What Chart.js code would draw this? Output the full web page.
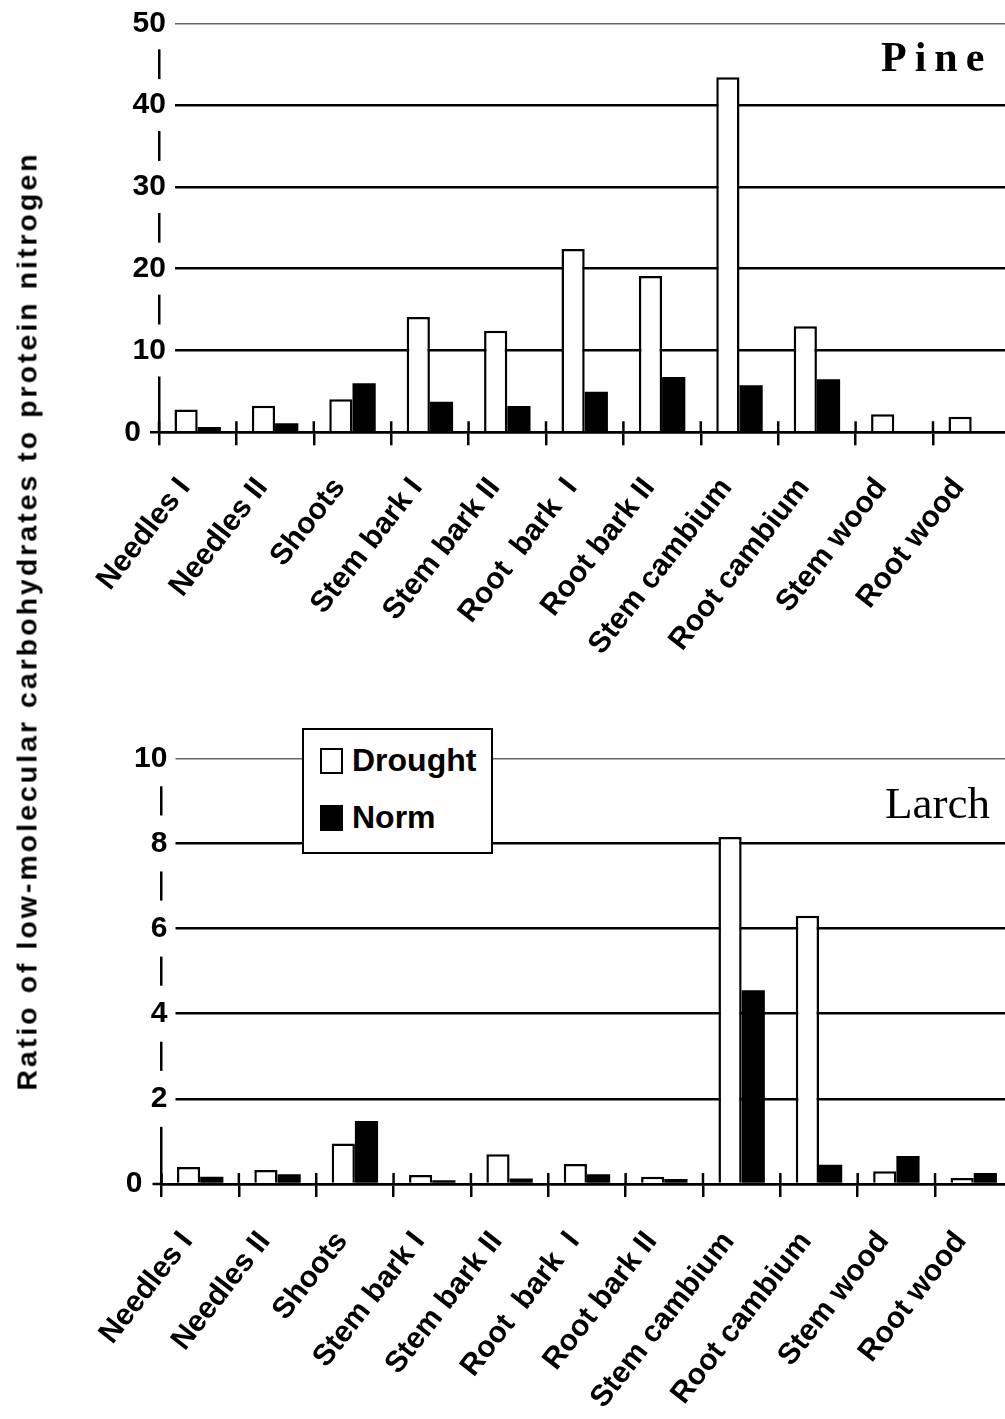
<!DOCTYPE html>
<html>
<head>
<meta charset="utf-8">
<script src="https://cdn.jsdelivr.net/npm/chart.js@4.4.1/dist/chart.umd.min.js"></script>
<style>
  html, body { margin: 0; padding: 0; background: #fff; overflow: hidden; }
  #wrap { position: relative; width: 1005px; height: 1419px; overflow: hidden; background: #fff; }
  canvas { position: absolute; left: 0; }
  #pineCanvas { top: 0; }
  #larchCanvas { top: 735px; }
  .panelTitle { position: absolute; font-family: "Liberation Serif", "DejaVu Serif", serif; color: #000; line-height: 1; white-space: nowrap; }
  #pineTitle { left: 881px; top: 36px; font-size: 42px; font-weight: bold; letter-spacing: 8px; }
  #larchTitle { left: 885px; top: 781px; font-size: 45px; }
  #ytitle { position: absolute; left: 27px; top: 621px; transform: translate(-50%, -50%) rotate(-90deg); font-family: "Liberation Sans", Arial, sans-serif; font-weight: bold; font-size: 28.5px; letter-spacing: 3px; white-space: nowrap; color: #000; }
  #legend { position: absolute; left: 302px; top: 728px; width: 187px; height: 122px; border: 2.5px solid #000; background: #fff; font-family: "Liberation Sans", Arial, sans-serif; font-weight: bold; font-size: 32px; color: #000; }
  .lg { position: absolute; left: 16px; display: flex; align-items: center; }
  .sw { width: 19px; height: 22px; border: 2px solid #000; margin-right: 9px; }
</style>
</head>
<body>
<div id="wrap">
  <canvas id="pineCanvas" width="1020" height="720" style="width:1020px;height:720px"></canvas>
  <canvas id="larchCanvas" width="1020" height="684" style="width:1020px;height:684px"></canvas>
  <div id="pineTitle" class="panelTitle">Pine</div>
  <div id="larchTitle" class="panelTitle">Larch</div>
  <div id="ytitle">Ratio of low-molecular carbohydrates to protein nitrogen</div>
  <div id="legend">
    <div class="lg" style="top:12px"><div class="sw" style="background:#fff"></div><span>Drought</span></div>
    <div class="lg" style="top:69px"><div class="sw" style="background:#000"></div><span>Norm</span></div>
  </div>
</div>
<script>
// ---- data ----
const categories = ["Needles I", "Needles II", "Shoots", "Stem bark I", "Stem bark II", "Root  bark  I", "Root bark II", "Stem cambium", "Root cambium", "Stem wood", "Root wood"];
const seriesNames = ["Drought", "Norm"];
const pineDrought = [2.8, 3.25, 4.05, 14.1, 12.4, 22.4, 19.1, 43.4, 12.95, 2.2, 1.9];
const pineNorm    = [0.65, 1.1, 6.0, 3.75, 3.2, 4.95, 6.75, 5.75, 6.5, 0, 0];
const larchDrought = [0.40, 0.33, 0.95, 0.21, 0.70, 0.47, 0.17, 8.15, 6.3, 0.30, 0.14];
const larchNorm    = [0.17, 0.23, 1.48, 0.09, 0.13, 0.23, 0.12, 4.55, 0.45, 0.66, 0.26];
const pineTicks = [0, 10, 20, 30, 40, 50];
const larchTicks = [0, 2, 4, 6, 8, 10];

const SANS = '"Liberation Sans", Arial, sans-serif';

const axisDecor = {
  id: 'axisDecor',
  afterDraw(chart, args, opts) {
    const { ctx, chartArea, scales: { x, y } } = chart;
    const y0 = y.getPixelForValue(0);
    const n = chart.data.labels.length;
    const w = (x.getPixelForValue(n - 1) - x.getPixelForValue(0)) / (n - 1);
    ctx.save();
    ctx.strokeStyle = '#000';
    ctx.lineWidth = 2.5;
    ctx.beginPath();
    ctx.moveTo(chartArea.left - opts.ext, y0);
    ctx.lineTo(chartArea.left, y0);
    for (let i = 0; i <= n; i++) {
      const px = x.getPixelForValue(0) - w / 2 + i * w;
      ctx.moveTo(px, y0 - opts.up);
      ctx.lineTo(px, y0);
    }
    ctx.stroke();
    ctx.restore();
  }
};

function makeChart(id, drought, norm, ticksVals, cfg) {
  const maxV = ticksVals[ticksVals.length - 1];
  const step = ticksVals[1] - ticksVals[0];
  return new Chart(document.getElementById(id), {
    type: 'bar',
    data: {
      labels: categories,
      datasets: [
        { label: seriesNames[0], data: drought, backgroundColor: '#fff', borderColor: '#000', borderWidth: 2.5 },
        { label: seriesNames[1], data: norm, backgroundColor: '#000', borderColor: '#000', borderWidth: 0 }
      ]
    },
    options: {
      responsive: false,
      animation: false,
      devicePixelRatio: 1,
      categoryPercentage: 0.6,
      barPercentage: 1.0,
      layout: { padding: { top: cfg.padTop, right: cfg.padRight, left: 0, bottom: 0 } },
      plugins: { legend: { display: false }, tooltip: { enabled: false }, axisDecor: { ext: 9, up: 11 } },
      scales: {
        x: {
          grid: { display: true, drawOnChartArea: false, drawTicks: true, tickLength: 13, color: '#000', lineWidth: 2.5, offset: true },
          border: { display: true, color: '#000', width: 2.5 },
          ticks: {
            autoSkip: false, minRotation: 52, maxRotation: 52, padding: cfg.xPad, labelOffset: -13,
            color: '#000', font: { family: SANS, weight: 'bold', size: 30 }
          },
          afterFit: (s) => { s.height = cfg.xHeight; s.paddingLeft = 0; s.paddingRight = 0; }
        },
        y: {
          min: 0, max: maxV,
          ticks: {
            stepSize: step, color: '#000',
            mirror: true, crossAlign: 'far', padding: cfg.yPad,
            font: { family: SANS, weight: 'bold', size: 30 },
            callback: (v) => v === 0 ? '0   ' : String(v),
            showLabelBackdrop: true,
            backdropColor: (c) => (c.tick && c.tick.value === 0) ? 'rgba(0,0,0,0)' : '#fff',
            backdropPadding: { top: cfg.bdPad, bottom: cfg.bdPad, left: 2, right: cfg.bdRight }
          },
          grid: {
            drawTicks: false,
            color: (c) => (c.tick && c.tick.value === maxV) ? '#666' : '#000',
            lineWidth: (c) => (c.tick && c.tick.value === maxV) ? 1.5 : 2.5
          },
          border: { display: true, color: '#000', width: 2.5 },
          afterFit: (s) => { s.width = cfg.yWidth; }
        }
      }
    },
    plugins: [axisDecor]
  });
}

makeChart('pineCanvas', pineDrought, pineNorm, pineTicks,
  { padTop: 23.3, padRight: 9.6, yWidth: 159, xHeight: 287.7, xPad: 26, yPad: -34.7, bdPad: 8, bdRight: 9 });
makeChart('larchCanvas', larchDrought, larchNorm, larchTicks,
  { padTop: 23.3, padRight: 7.6, yWidth: 161.5, xHeight: 235, xPad: 28, yPad: -35.7, bdPad: 10, bdRight: 8 });
</script>
</body>
</html>
